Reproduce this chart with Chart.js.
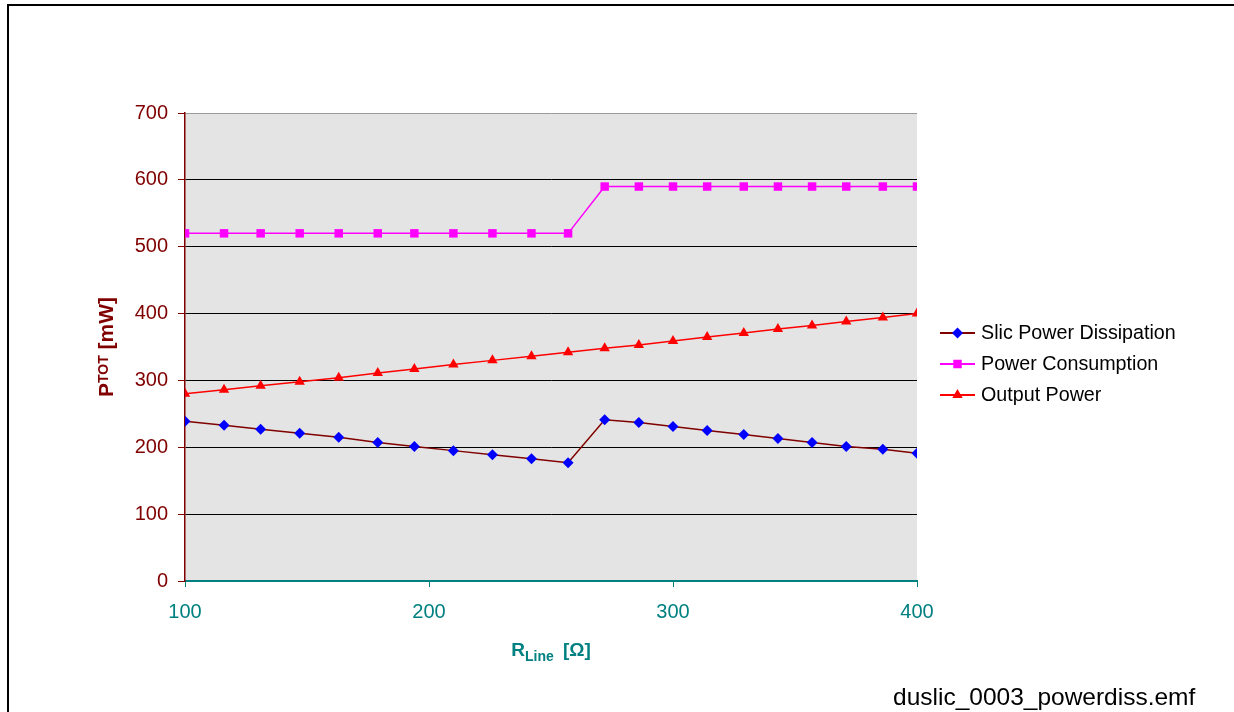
<!DOCTYPE html>
<html>
<head>
<meta charset="utf-8">
<title>duslic power dissipation</title>
<script src="https://cdn.jsdelivr.net/npm/chart.js@4.4.1/dist/chart.umd.min.js"></script>
<style>
  html, body { margin: 0; padding: 0; background: #fff; }
  #wrap { position: relative; width: 1234px; height: 712px; }
</style>
</head>
<body>
<div id="wrap"><canvas id="chart" width="1234" height="712"></canvas></div>
<script>
// R_Line values (Ohm)
const rLine = [100, 116, 131, 147, 163, 179, 194, 210, 226, 242, 257, 272, 286, 300, 314, 329, 343, 357, 371, 386, 400];

// P_TOT series (mW)
const slicPower = [239, 233, 227, 221, 215, 207, 201, 195, 189, 183, 177, 241, 237, 231, 225, 219, 213, 207, 201, 197, 191];
const powerConsumption = [520, 520, 520, 520, 520, 520, 520, 520, 520, 520, 520, 590, 590, 590, 590, 590, 590, 590, 590, 590, 590];
const outputPower = [280, 286, 292, 298, 304, 311, 317, 324, 330, 336, 342, 348, 353, 359, 365, 371, 377, 382, 388, 394, 400];

const seriesNames = ['Slic Power Dissipation', 'Power Consumption', 'Output Power'];
const xTicks = [100, 200, 300, 400];
const yTicks = [0, 100, 200, 300, 400, 500, 600, 700];

const FONT = "'Liberation Sans', Arial, sans-serif";
const DARK_RED = '#800000';
const TEAL = '#008080';

function toPoints(ys) {
    return rLine.map((x, i) => ({ x: x, y: ys[i] }));
}

// background, frame, axis titles, legend and file name
const decorPlugin = {
    id: 'decor',
    beforeDraw(chart) {
        const ctx = chart.ctx;
        const a = chart.chartArea;
        ctx.save();
        ctx.fillStyle = '#fff';
        ctx.fillRect(0, 0, chart.width, chart.height);
        ctx.fillStyle = '#e4e4e4';
        ctx.fillRect(a.left, a.top, a.right - a.left, a.bottom - a.top);
        // outer frame (top and left edge visible)
        ctx.strokeStyle = '#000';
        ctx.lineWidth = 2;
        ctx.beginPath();
        ctx.moveTo(8, chart.height);
        ctx.lineTo(8, 5);
        ctx.lineTo(chart.width, 5);
        ctx.stroke();
        ctx.restore();
    },
    afterDraw(chart) {
        const ctx = chart.ctx;
        const a = chart.chartArea;
        ctx.save();

        // y axis title: P_TOT [mW]
        ctx.translate(113, (a.top + a.bottom) / 2);
        ctx.rotate(-Math.PI / 2);
        ctx.fillStyle = DARK_RED;
        ctx.textBaseline = 'alphabetic';
        ctx.textAlign = 'left';
        const big = 'bold 21px ' + FONT;
        const small = 'bold 14px ' + FONT;
        ctx.font = big;
        const wP = ctx.measureText('P').width;
        const wRest = ctx.measureText(' [mW]').width;
        ctx.font = small;
        const wSub = ctx.measureText('TOT').width;
        let x0 = -(wP + wSub + wRest) / 2;
        ctx.font = big;
        ctx.fillText('P', x0, 0);
        ctx.font = small;
        ctx.fillText('TOT', x0 + wP, -5);
        ctx.font = big;
        ctx.fillText(' [mW]', x0 + wP + wSub, 0);
        ctx.setTransform(1, 0, 0, 1, 0, 0);

        // x axis title: R_Line [Ω]
        ctx.fillStyle = TEAL;
        const xb = 'bold 19px ' + FONT;
        const xs = 'bold 14px ' + FONT;
        ctx.font = xb;
        const wR = ctx.measureText('R').width;
        const wO = ctx.measureText(' [Ω]').width;
        ctx.font = xs;
        const wL = ctx.measureText('Line ').width;
        let xx = (a.left + a.right) / 2 - (wR + wL + wO) / 2;
        ctx.font = xb;
        ctx.fillText('R', xx, 656);
        ctx.font = xs;
        ctx.fillText('Line ', xx + wR, 661);
        ctx.font = xb;
        ctx.fillText(' [Ω]', xx + wR + wL, 656);

        // legend: line sample with marker
        const rows = [333, 364, 395];
        chart.data.datasets.forEach((ds, i) => {
            const y = rows[i];
            ctx.strokeStyle = ds.borderColor;
            ctx.lineWidth = 2;
            ctx.beginPath();
            ctx.moveTo(940, y);
            ctx.lineTo(975, y);
            ctx.stroke();
            ctx.fillStyle = ds.pointBackgroundColor;
            ctx.strokeStyle = ds.pointBorderColor;
            Chart.helpers.drawPoint(ctx, {
                pointStyle: ds.pointStyle,
                radius: ds.pointRadius,
                rotation: 0,
                borderWidth: 0
            }, 957.5, y);
            ctx.fillStyle = '#000';
            ctx.font = '19.7px ' + FONT;
            ctx.textBaseline = 'middle';
            ctx.fillText(ds.label, 981, y + 1);
        });

        // file name
        ctx.fillStyle = '#000';
        ctx.font = '24.5px ' + FONT;
        ctx.textBaseline = 'alphabetic';
        ctx.fillText('duslic_0003_powerdiss.emf', 893, 705);
        ctx.restore();
    }
};

const ctx = document.getElementById('chart').getContext('2d');

const chart = new Chart(ctx, {
    type: 'line',
    data: {
        datasets: [{
            label: seriesNames[0],
            data: toPoints(slicPower),
            borderColor: DARK_RED,
            borderWidth: 1.5,
            pointStyle: 'rectRot',
            pointRadius: 5.5,
            pointBackgroundColor: '#0000ff',
            pointBorderColor: '#0000ff',
            pointBorderWidth: 0,
            tension: 0
        }, {
            label: seriesNames[1],
            data: toPoints(powerConsumption),
            borderColor: '#ff00ff',
            borderWidth: 1.5,
            pointStyle: 'rect',
            pointRadius: 6,
            pointBackgroundColor: '#ff00ff',
            pointBorderColor: '#ff00ff',
            pointBorderWidth: 0,
            tension: 0
        }, {
            label: seriesNames[2],
            data: toPoints(outputPower),
            borderColor: '#ff0000',
            borderWidth: 1.5,
            pointStyle: 'triangle',
            pointRadius: 6,
            pointBackgroundColor: '#ff0000',
            pointBorderColor: '#ff0000',
            pointBorderWidth: 0,
            tension: 0
        }]
    },
    options: {
        responsive: false,
        animation: false,
        layout: {
            padding: { left: 0, top: 113, right: 317, bottom: 0 }
        },
        plugins: {
            legend: { display: false },
            tooltip: { enabled: false }
        },
        scales: {
            x: {
                type: 'linear',
                min: 100,
                max: 400,
                afterFit: (scale) => { scale.height = 131; },
                afterBuildTicks: (scale) => { scale.ticks = xTicks.map(v => ({ value: v })); },
                border: { color: TEAL, width: 2 },
                grid: {
                    drawOnChartArea: false,
                    drawTicks: true,
                    tickLength: 6,
                    tickColor: TEAL
                },
                ticks: {
                    color: TEAL,
                    font: { family: FONT, size: 20 },
                    padding: 13,
                    maxRotation: 0
                }
            },
            y: {
                min: 0,
                max: 700,
                afterFit: (scale) => { scale.width = 185; },
                afterBuildTicks: (scale) => { scale.ticks = yTicks.map(v => ({ value: v })); },
                border: { color: DARK_RED, width: 1.5 },
                grid: {
                    color: (c) => c.tick && c.tick.value === 700 ? '#9a9a9a' : '#000',
                    lineWidth: 1,
                    drawTicks: true,
                    tickLength: 7,
                    tickColor: DARK_RED
                },
                ticks: {
                    color: DARK_RED,
                    font: { family: FONT, size: 20 },
                    padding: 10
                }
            }
        }
    },
    plugins: [decorPlugin]
});
</script>
</body>
</html>
